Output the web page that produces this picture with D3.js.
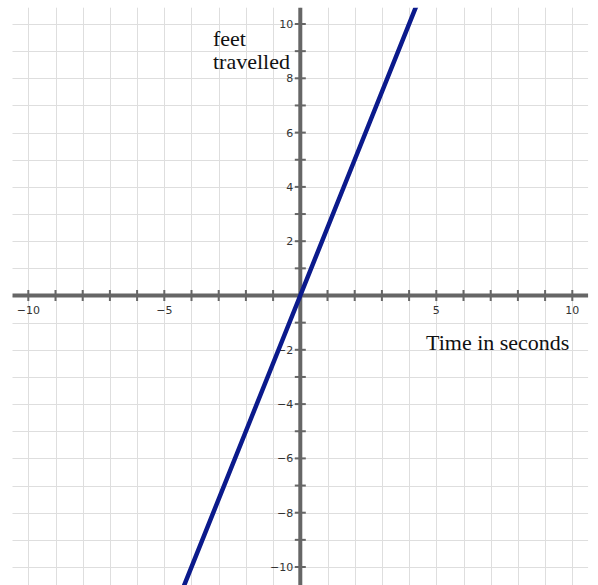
<!DOCTYPE html>
<html>
<head>
<meta charset="utf-8">
<script src="https://cdn.jsdelivr.net/npm/d3@7"></script>
<style>
  body { margin: 0; background: #fff; }
  .tick-label { font-family: "DejaVu Sans", sans-serif; font-size: 11px; fill: #333; }
  .axis-title { font-family: "Liberation Serif", "Times New Roman", serif; font-size: 22px; fill: #111; }
</style>
</head>
<body>
<div id="chart"></div>
<script>
// data: feet travelled vs time (seconds)
const timeValues = [-4.4, -2, 0, 2, 4.4];
const feetValues = [-11, -5, 0, 5, 11];

const gridValues = d3.range(-10, 11);
const xLabelValues = [-10, -5, 5, 10];
const yLabelValues = [-10, -8, -6, -4, -2, 2, 4, 6, 8, 10];
const xTitle = "Time in seconds";
const yTitle = ["feet", "travelled"];

const WIDTH = 598, HEIGHT = 585;

const svg = d3.select("#chart").append("svg")
  .attr("width", WIDTH)
  .attr("height", HEIGHT);

// scales
const x = d3.scaleLinear().domain([-10, 10]).range([28.3, 572.3]);
const y = d3.scaleLinear().domain([-10, 10]).range([567, 24]);

const xMin = -10.58, xMax = 10.58, yMax = 10.6, yMin = -10.9;

// grid
const grid = svg.append("g").attr("class", "grid")
  .attr("stroke", "#dedede")
  .attr("stroke-width", 1);

grid.selectAll(".v").data(gridValues).enter().append("line")
  .attr("x1", d => Math.round(x(d)) + 0.5)
  .attr("x2", d => Math.round(x(d)) + 0.5)
  .attr("y1", y(yMax))
  .attr("y2", y(yMin));

grid.selectAll(".h").data(gridValues).enter().append("line")
  .attr("y1", d => Math.round(y(d)) + 0.5)
  .attr("y2", d => Math.round(y(d)) + 0.5)
  .attr("x1", x(xMin))
  .attr("x2", x(xMax));

// axes
const axes = svg.append("g").attr("class", "axes").attr("stroke", "#666");

axes.append("line")
  .attr("x1", x(xMin)).attr("x2", x(xMax))
  .attr("y1", y(0)).attr("y2", y(0))
  .attr("stroke-width", 4);

axes.append("line")
  .attr("x1", x(0)).attr("x2", x(0))
  .attr("y1", y(yMax)).attr("y2", y(yMin))
  .attr("stroke-width", 4);

const tickValues = gridValues.filter(d => d !== 0);

axes.selectAll(".xt").data(tickValues).enter().append("line")
  .attr("x1", d => x(d)).attr("x2", d => x(d))
  .attr("y1", y(0) - 5.5).attr("y2", y(0) + 5.5)
  .attr("stroke-width", 2);

axes.selectAll(".yt").data(tickValues).enter().append("line")
  .attr("y1", d => y(d)).attr("y2", d => y(d))
  .attr("x1", x(0) - 5.5).attr("x2", x(0) + 5.5)
  .attr("stroke-width", 2);

// tick labels
const fmt = d => d < 0 ? "\u2212" + Math.abs(d) : String(d);

svg.append("g").selectAll("text").data(xLabelValues).enter().append("text")
  .attr("class", "tick-label")
  .attr("x", d => x(d))
  .attr("y", y(0) + 18)
  .attr("text-anchor", "middle")
  .text(fmt);

svg.append("g").selectAll("text").data(yLabelValues).enter().append("text")
  .attr("class", "tick-label")
  .attr("x", x(0) - 7)
  .attr("y", d => y(d))
  .attr("dy", "0.36em")
  .attr("text-anchor", "end")
  .text(fmt);

// line, clipped to the plot area
svg.append("clipPath").attr("id", "plot-clip")
  .append("rect")
  .attr("x", x(xMin))
  .attr("y", y(yMax))
  .attr("width", x(xMax) - x(xMin))
  .attr("height", y(yMin) - y(yMax));

const line = d3.line()
  .x((d, i) => x(timeValues[i]))
  .y(d => y(d));

svg.append("path")
  .attr("clip-path", "url(#plot-clip)")
  .attr("fill", "none")
  .attr("stroke", "#0b1a8c")
  .attr("stroke-width", 4.5)
  .attr("d", line(feetValues));

// titles
svg.append("text")
  .attr("class", "axis-title")
  .attr("x", 426)
  .attr("y", 350)
  .text(xTitle);

svg.append("g").selectAll("text").data(yTitle).enter().append("text")
  .attr("class", "axis-title")
  .attr("x", 213)
  .attr("y", (d, i) => 46 + i * 22.5)
  .text(d => d);
</script>
</body>
</html>
